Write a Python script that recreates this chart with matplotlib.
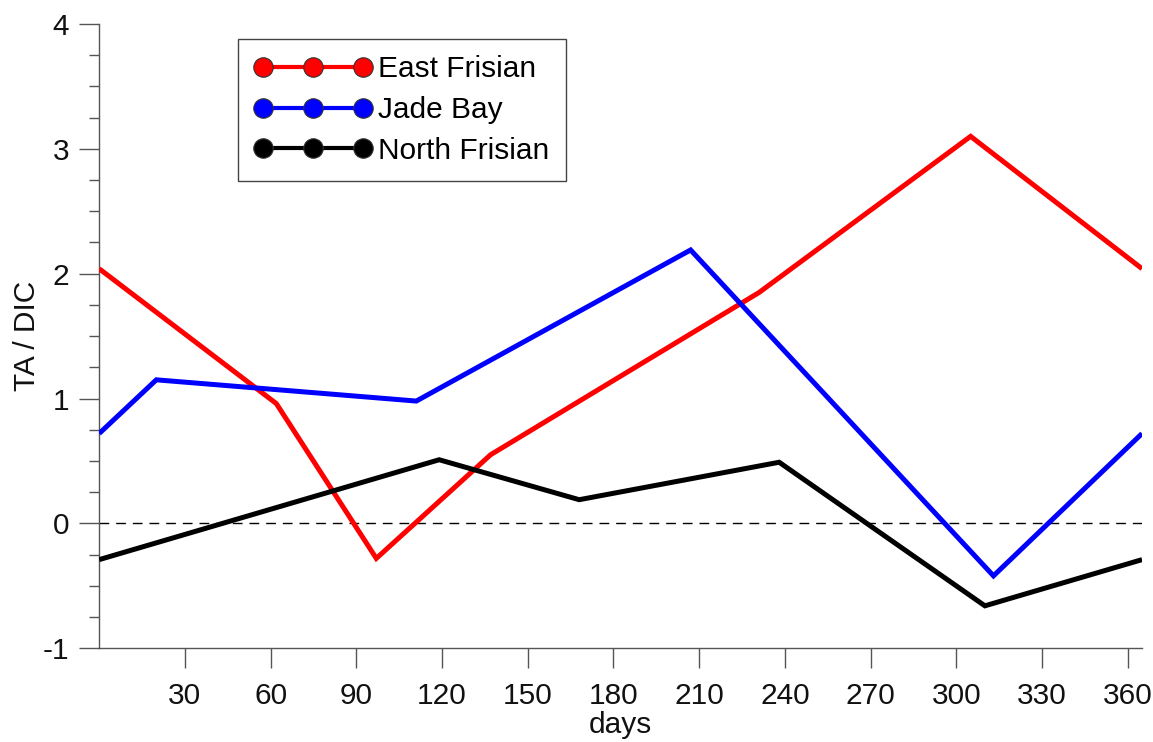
import matplotlib
matplotlib.use("Agg")
import matplotlib.pyplot as plt
from matplotlib.lines import Line2D
from matplotlib.legend_handler import HandlerLine2D
from matplotlib.ticker import MultipleLocator

plt.rcParams["font.family"] = ["Liberation Sans", "DejaVu Sans"]
plt.rcParams["axes.unicode_minus"] = False

# TA / DIC over the year for three Wadden Sea regions
east_days = [0, 62, 97, 137, 231, 305, 365]
east_vals = [2.04, 0.96, -0.28, 0.55, 1.85, 3.10, 2.04]

jade_days = [0, 20, 111, 207, 313, 365]
jade_vals = [0.72, 1.15, 0.98, 2.19, -0.42, 0.72]

north_days = [0, 119, 168, 238, 310, 365]
north_vals = [-0.29, 0.51, 0.19, 0.49, -0.66, -0.29]

series_names = ["East Frisian", "Jade Bay", "North Frisian"]
series_colors = ["#ff0000", "#0000ff", "#000000"]

x_ticks = list(range(30, 361, 30))

FS = 21.5

fig = plt.figure(figsize=(11.53, 7.42), dpi=100)
ax = fig.add_axes([0.0860, 0.1263, 0.9045, 0.8414])

ax.axhline(0, color="black", lw=1.0, dashes=(7, 5), zorder=1)

for days, vals, col in zip([east_days, jade_days, north_days],
                           [east_vals, jade_vals, north_vals],
                           series_colors):
    ax.plot(days, vals, color=col, lw=3.6, solid_joinstyle="miter",
            solid_capstyle="butt", zorder=3)

ax.set_xlim(0, 365)
ax.set_ylim(-1, 4)
ax.set_xticks(x_ticks)
ax.yaxis.set_major_locator(MultipleLocator(1))
ax.yaxis.set_minor_locator(MultipleLocator(0.25))

for side in ("top", "right"):
    ax.spines[side].set_visible(False)
for side in ("left", "bottom"):
    ax.spines[side].set_color("#555555")
    ax.spines[side].set_linewidth(1.0)

ax.tick_params(axis="both", which="major", direction="out", length=14.5,
               width=1.0, color="#555555", labelsize=FS, pad=7,
               labelcolor="#111111")
ax.tick_params(axis="x", which="major", pad=10)
ax.tick_params(axis="y", which="minor", direction="out", length=7,
               width=1.0, color="#555555")

ax.set_xlabel("days", fontsize=FS, labelpad=0.5, color="#111111")
ax.set_ylabel("TA / DIC", fontsize=FS, labelpad=1, color="#111111")

handles = [Line2D([], [], color=c, lw=3.0, marker="o", markersize=14,
                  markerfacecolor=c, markeredgecolor="#333333",
                  markeredgewidth=0.8)
           for c in series_colors]
leg = fig.legend(handles, series_names, loc="upper left",
                 bbox_to_anchor=(238 / 1153, 1 - 39 / 742),
                 borderaxespad=0, fontsize=FS, numpoints=3,
                 handlelength=3.95, handletextpad=0.2, labelspacing=0.42,
                 borderpad=0.55, fancybox=False, framealpha=1,
                 edgecolor="#444444",
                 handler_map={Line2D: HandlerLine2D(marker_pad=0.3, numpoints=3)})
leg.get_frame().set_linewidth(1.0)

fig.savefig("out.png", dpi=100)
